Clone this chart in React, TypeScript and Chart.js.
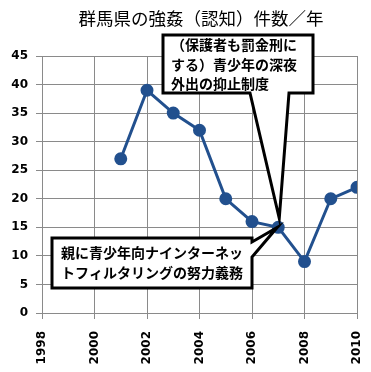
import React, { useEffect, useRef } from "react";
import { Chart, registerables } from "chart.js";

Chart.register(...registerables);

const TITLE = "群馬県の強姦（認知）件数／年";
const YEARS = [2001, 2002, 2003, 2004, 2005, 2006, 2007, 2008, 2009, 2010];
const COUNTS = [27, 39, 35, 32, 20, 16, 15, 9, 20, 22];
const X_MIN = 1998;
const X_MAX = 2010;
const X_STEP = 2;
const Y_MIN = 0;
const Y_MAX = 45;
const Y_STEP = 5;
const NOTE_TOP = ["（保護者も罰金刑に", "する）青少年の深夜", "外出の抑止制度"];
const NOTE_BOTTOM = ["親に青少年向ナインターネッ", "トフィルタリングの努力義務"];
const NOTE_YEAR = 2007;
const NOTE_VALUE = 15;

const LINE_COLOR = "#22508E";
const GRID_COLOR = "#8a8a8a";

const calloutPlugin = {
  id: "callouts",
  afterDraw(chart: any) {
    const ctx = chart.ctx;
    const xs = chart.scales.x;
    const ys = chart.scales.y;
    const px = xs.getPixelForValue(NOTE_YEAR);
    const py = ys.getPixelForValue(NOTE_VALUE);

    ctx.save();
    ctx.fillStyle = "#000";
    ctx.font = "17.5px 'Noto Sans CJK JP'";
    ctx.textAlign = "center";
    ctx.textBaseline = "middle";
    ctx.fillText(TITLE, 201, 18);

    ctx.lineWidth = 3;
    ctx.strokeStyle = "#000";
    ctx.lineJoin = "miter";
    ctx.fillStyle = "#fff";

    // top callout
    ctx.beginPath();
    ctx.moveTo(163, 35);
    ctx.lineTo(313, 35);
    ctx.lineTo(313, 93);
    ctx.lineTo(289, 93);
    ctx.lineTo(px + 1, py - 9);
    ctx.lineTo(250, 93);
    ctx.lineTo(163, 93);
    ctx.closePath();
    ctx.fill();
    ctx.stroke();

    // bottom callout
    ctx.beginPath();
    ctx.moveTo(52, 238);
    ctx.lineTo(252, 238);
    ctx.lineTo(252, 242);
    ctx.lineTo(px - 1, py);
    ctx.lineTo(252, 257);
    ctx.lineTo(252, 288);
    ctx.lineTo(52, 288);
    ctx.closePath();
    ctx.fill();
    ctx.stroke();

    ctx.fillStyle = "#000";
    ctx.font = "bold 14px 'Noto Sans CJK JP'";
    ctx.textAlign = "left";
    ctx.textBaseline = "middle";
    NOTE_TOP.forEach((t, i) => ctx.fillText(t, 171, 45 + i * 19.5));
    NOTE_BOTTOM.forEach((t, i) => ctx.fillText(t, 61, 253 + i * 20));
    ctx.restore();
  },
};

export default function App() {
  const ref = useRef<HTMLCanvasElement | null>(null);
  useEffect(() => {
    if (!ref.current) return;
    const chart = new Chart(ref.current, {
      type: "line",
      data: {
        datasets: [
          {
            data: YEARS.map((y, i) => ({ x: y, y: COUNTS[i] })),
            borderColor: LINE_COLOR,
            backgroundColor: LINE_COLOR,
            borderWidth: 3,
            pointRadius: 5,
            pointBackgroundColor: LINE_COLOR,
            pointBorderColor: LINE_COLOR,
            tension: 0,
          },
        ],
      },
      options: {
        responsive: false,
        animation: false,
        layout: { padding: { top: 56, right: 14, left: 0, bottom: 0 } },
        plugins: {
          legend: { display: false },
          title: { display: false },
          tooltip: { enabled: false },
        },
        scales: {
          x: {
            type: "linear",
            min: X_MIN,
            max: X_MAX,
            afterFit(scale: any) {
              scale.height = 59;
              scale.paddingLeft = 0;
              scale.paddingRight = 0;
            },
            ticks: {
              stepSize: X_STEP,
              minRotation: 90,
              maxRotation: 90,
              padding: 12,
              color: "#000",
              font: { family: "'DejaVu Sans'", weight: "bold", size: 12 },
              callback: (v: any) => String(v),
            },
            grid: { color: GRID_COLOR, tickLength: 6, tickColor: GRID_COLOR },
            border: { color: GRID_COLOR },
          },
          y: {
            min: Y_MIN,
            max: Y_MAX,
            afterFit(scale: any) {
              scale.width = 42;
              scale.paddingTop = 0;
              scale.paddingBottom = 0;
            },
            ticks: {
              stepSize: Y_STEP,
              padding: 8,
              color: "#000",
              font: { family: "'DejaVu Sans'", weight: "bold", size: 12 },
            },
            grid: { color: GRID_COLOR, tickLength: 6, tickColor: GRID_COLOR },
            border: { color: GRID_COLOR },
          },
        },
      },
      plugins: [calloutPlugin],
    });
    return () => chart.destroy();
  }, []);
  return (
    <div style={{ position: "absolute", left: 0, top: 0, width: 371, height: 372, background: "#fff" }}>
      <canvas ref={ref} width={371} height={372} />
    </div>
  );
}
